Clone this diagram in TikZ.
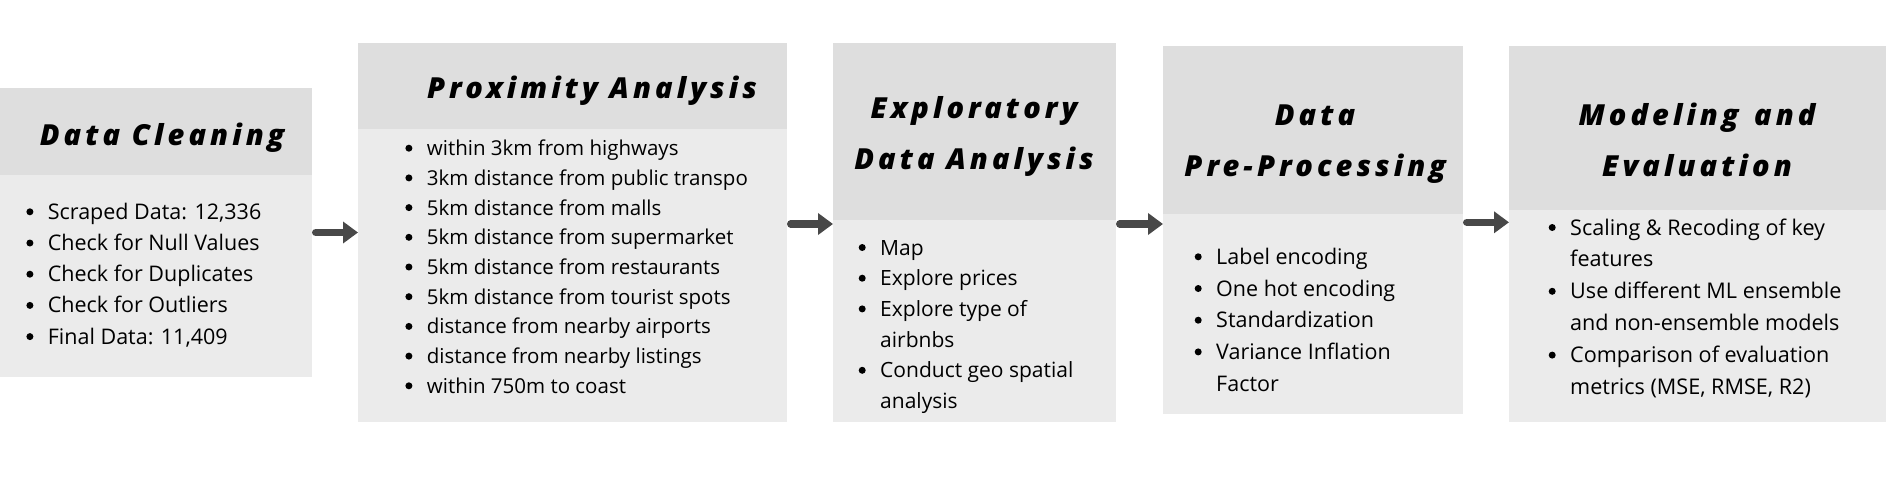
\documentclass[tikz,border=0pt]{standalone}
\usepackage{fontspec}
\setmainfont{Open Sans}
\IfFontExistsTF{Open Sans ExtraBold Italic}{%
  \newfontfamily\ttlfont{Open Sans ExtraBold Italic}[LetterSpace=14]\newcommand\ttlshape{\ttlfont}}{%
  \IfFontExistsTF{Open Sans Extrabold Italic}{%
    \newfontfamily\ttlfont{Open Sans Extrabold Italic}[LetterSpace=14]\newcommand\ttlshape{\ttlfont}}{%
    \newfontfamily\ttlfont{Open Sans}[LetterSpace=17]\newcommand\ttlshape{\ttlfont\bfseries\itshape}}}
\usetikzlibrary{arrows.meta}
\definecolor{hdr}{RGB}{222,222,222}
\definecolor{bdy}{RGB}{235,235,235}
\definecolor{arrc}{RGB}{72,72,72}
\newcommand\bitem{\llap{\makebox[0pt]{\tikz[baseline=0pt]\fill[black] (0pt,7.5pt) circle[radius=3.5pt];}\hspace{18pt}}}
\tikzset{
  hdrbox/.style={fill=hdr, draw=none, inner sep=0pt, outer sep=0pt, anchor=north west},
  bodybox/.style={fill=bdy, draw=none, inner sep=0pt, outer sep=0pt, anchor=north west},
  ttl/.style={inner sep=0pt, anchor=base, text=black, font={\ttlshape\fontsize{29}{51}\selectfont}},
  lst/.style={inner sep=0pt, anchor=base west, text=black},
  flow/.style={draw=arrc, line width=7.5pt, line cap=round, shorten <=3.75pt, -{Triangle[length=15pt,width=21pt]}}
}
\begin{document}
\begin{tikzpicture}[x=1pt,y=-1pt]
\useasboundingbox (0,0) rectangle (1886,479);
\fill[white] (0,0) rectangle (1886,479);
% boxes
\node[hdrbox, minimum width=312pt, minimum height=87pt] (h1) at (0,88) {};
\node[bodybox, minimum width=312pt, minimum height=202pt] (b1) at (0,175) {};
\node[hdrbox, minimum width=429pt, minimum height=86pt] (h2) at (358,43) {};
\node[bodybox, minimum width=429pt, minimum height=293pt] (b2) at (358,129) {};
\node[hdrbox, minimum width=283pt, minimum height=177pt] (h3) at (833,43) {};
\node[bodybox, minimum width=283pt, minimum height=202pt] (b3) at (833,220) {};
\node[hdrbox, minimum width=300pt, minimum height=168pt] (h4) at (1163,46) {};
\node[bodybox, minimum width=300pt, minimum height=200pt] (b4) at (1163,214) {};
\node[hdrbox, minimum width=380pt, minimum height=164pt] (h5) at (1509,46) {};
\node[bodybox, minimum width=380pt, minimum height=212pt] (b5) at (1509,210) {};
% titles
\node[ttl] (t1) at (162,145) {Data Cleaning};
\node[ttl] (t2) at (592,98) {Proximity Analysis};
\node[ttl] (t3) at (974,118.3) {\begin{tabular}[t]{@{}c@{}}Exploratory\\Data Analysis\end{tabular}};
\node[ttl] (t4) at (1315,125) {\begin{tabular}[t]{@{}c@{}}Data\\Pre-Processing\end{tabular}};
\node[ttl] (t5) at (1697,125) {\begin{tabular}[t]{@{}c@{}}Modeling\hspace{0.15em} and\\Evaluation\end{tabular}};
% lists
\node[lst, font={\fontsize{21.5}{31.2}\selectfont}] (l1) at (47.7,219.3) {\begin{tabular}[t]{@{}l@{}}
\bitem Scraped Data: 12,336\\
\bitem Check for Null Values\\
\bitem Check for Duplicates\\
\bitem Check for Outliers\\
\bitem Final Data: 11,409\end{tabular}};
\node[lst, font={\fontsize{20.5}{29.7}\selectfont}] (l2) at (426.7,155.7) {\begin{tabular}[t]{@{}l@{}}
\bitem within 3km from highways\\
\bitem 3km distance from public transpo\\
\bitem 5km distance from malls\\
\bitem 5km distance from supermarket\\
\bitem 5km distance from restaurants\\
\bitem 5km distance from tourist spots\\
\bitem distance from nearby airports\\
\bitem distance from nearby listings\\
\bitem within 750m to coast\end{tabular}};
\node[lst, font={\fontsize{21}{30.7}\selectfont}] (l3) at (880,255) {\begin{tabular}[t]{@{}l@{}}
\bitem Map\\
\bitem Explore prices\\
\bitem Explore type of\\
airbnbs\\
\bitem Conduct geo spatial\\
analysis\end{tabular}};
\node[lst, font={\fontsize{21.5}{31.7}\selectfont}] (l4) at (1216,264.3) {\begin{tabular}[t]{@{}l@{}}
\bitem Label encoding\\
\bitem One hot encoding\\
\bitem Standardization\\
\bitem Variance Inflation\\
Factor\end{tabular}};
\node[lst, font={\fontsize{21.6}{31.9}\selectfont}] (l5) at (1570,235) {\begin{tabular}[t]{@{}l@{}}
\bitem Scaling \& Recoding of key\\
features\\
\bitem Use different ML ensemble\\
and non-ensemble models\\
\bitem Comparison of evaluation\\
metrics (MSE, RMSE, R2)\end{tabular}};
% arrows
\draw[flow] (b1.east |- 0,232.5) -- (b2.west |- 0,232.5);
\draw[flow] (b2.east |- 0,224) -- (b3.west |- 0,224);
\draw[flow] (b3.east |- 0,224) -- (b4.west |- 0,224);
\draw[flow] (b4.east |- 0,222.3) -- (b5.west |- 0,222.3);
\end{tikzpicture}
\end{document}
